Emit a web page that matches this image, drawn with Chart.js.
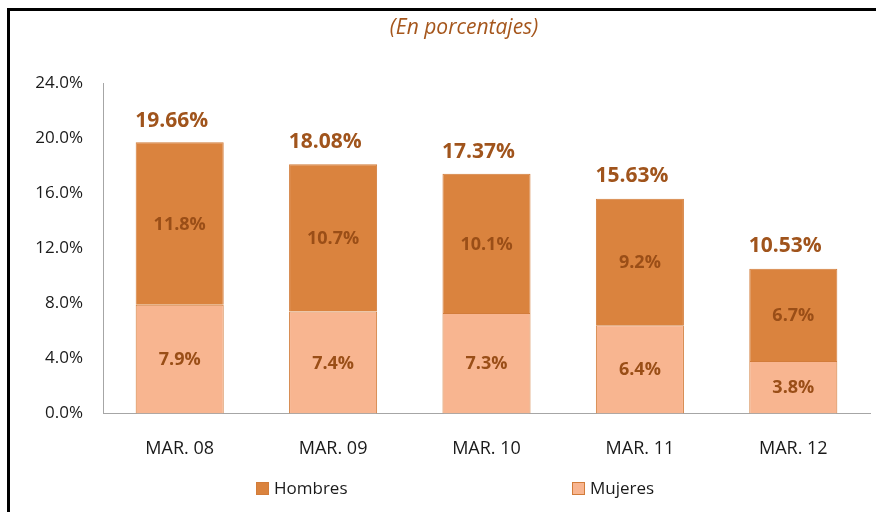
<!DOCTYPE html>
<html>
<head>
<meta charset="utf-8">
<script src="https://cdn.jsdelivr.net/npm/chart.js@4/dist/chart.umd.min.js"></script>
<style>
  html, body { margin: 0; padding: 0; background: #fff; overflow: hidden; }
  #wrap { position: relative; width: 876px; height: 512px; overflow: hidden; }
  .linea { position: absolute; background: #000; pointer-events: none; }
</style>
</head>
<body>
<div id="wrap">
  <canvas id="canvas" width="876" height="512"></canvas>
  <div class="linea" style="left:7px; top:8px; width:3px; height:504px;"></div>
  <div class="linea" style="left:7px; top:8px; width:869px; height:3px;"></div>
</div>
<script>
// datos
var categorias = ["MAR. 08", "MAR. 09", "MAR. 10", "MAR. 11", "MAR. 12"];
var mujeres = [7.9, 7.4, 7.3, 6.4, 3.8];
var hombres = [11.8, 10.7, 10.1, 9.2, 6.7];
var totales = [19.66, 18.08, 17.37, 15.63, 10.53];
var yTicks = [0, 4, 8, 12, 16, 20, 24];
var subtitulo = "(En porcentajes)";

var FONT = "'Open Sans', 'Noto Sans', sans-serif";
var colHombres = "#DA833E";
var colMujeres = "#F8B590";
var colBorde = "#D27C3A";
var colEtiqueta = "#9A4E17";

// etiquetas dentro de las barras, totales encima y subtitulo
var etiquetas = {
    id: "etiquetas",
    afterDatasetsDraw: function(chart){
        var ctx = chart.ctx;
        ctx.save();
        ctx.textAlign = "center";
        ctx.textBaseline = "middle";
        ctx.fillStyle = colEtiqueta;
        ctx.font = "bold 18px " + FONT;
        chart.data.datasets.forEach(function(ds, i){
            var meta = chart.getDatasetMeta(i);
            meta.data.forEach(function(bar, j){
                var p = bar.getProps(["x", "y", "base"], true);
                ctx.fillText(ds.data[j].toFixed(1) + "%", p.x, (p.y + p.base) / 2 + 1);
            });
        });
        var y = chart.scales.y;
        var meta0 = chart.getDatasetMeta(0);
        ctx.fillStyle = "#A0541C";
        ctx.font = "bold 21px " + FONT;
        totales.forEach(function(t, j){
            ctx.fillText(t.toFixed(2) + "%", meta0.data[j].x - 8, y.getPixelForValue(t) - 22);
        });
        ctx.fillStyle = "#A5561C";
        ctx.font = "italic 21px " + FONT;
        ctx.fillText(subtitulo, 464, 28);
        ctx.restore();
    }
};

// leyenda al estilo Excel
var leyenda = {
    id: "leyenda",
    afterDraw: function(chart){
        var ctx = chart.ctx, a = chart.chartArea;
        var items = [
            {ds: chart.data.datasets[1], f: 0.2},
            {ds: chart.data.datasets[0], f: 0.611}
        ];
        ctx.save();
        ctx.font = "17px " + FONT;
        ctx.textBaseline = "middle";
        ctx.textAlign = "left";
        items.forEach(function(it){
            var x = Math.round(a.left + it.f * (a.right - a.left));
            ctx.fillStyle = it.ds.backgroundColor;
            ctx.fillRect(x, 482, 13, 13);
            ctx.strokeStyle = colBorde;
            ctx.lineWidth = 1;
            ctx.strokeRect(x + 0.5, 482.5, 12, 12);
            ctx.fillStyle = "#1a1a1a";
            ctx.fillText(it.ds.label, x + 18, 489);
        });
        ctx.restore();
    }
};

var ctx = document.getElementById("canvas").getContext("2d");
new Chart(ctx, {
    type: "bar",
    data: {
        labels: categorias,
        datasets: [
            { label: "Mujeres", data: mujeres, backgroundColor: colMujeres, borderColor: colBorde, borderWidth: 1 },
            { label: "Hombres", data: hombres, backgroundColor: colHombres, borderColor: colBorde, borderWidth: 1 }
        ]
    },
    options: {
        responsive: false,
        animation: false,
        categoryPercentage: 1,
        barPercentage: 0.574,
        layout: { padding: { left: 7, right: 6, top: 83, bottom: 27 } },
        plugins: {
            legend: { display: false },
            tooltip: { enabled: false }
        },
        scales: {
            x: {
                stacked: true,
                grid: { display: false, drawTicks: false },
                border: { display: true, color: "#A6A6A6", width: 1 },
                ticks: { color: "#1a1a1a", padding: 25, font: { family: FONT, size: 18 } }
            },
            y: {
                stacked: true,
                min: 0,
                max: 24,
                afterBuildTicks: function(s){ s.ticks = yTicks.map(function(v){ return {value: v}; }); },
                afterFit: function(s){ s.width = 96; },
                grid: { display: false, drawTicks: false },
                border: { display: true, color: "#A6A6A6", width: 1 },
                ticks: {
                    color: "#1a1a1a",
                    padding: 20,
                    font: { family: FONT, size: 17 },
                    callback: function(v){ return v.toFixed(1) + "%"; }
                }
            }
        }
    },
    plugins: [etiquetas, leyenda]
});
</script>
</body>
</html>
